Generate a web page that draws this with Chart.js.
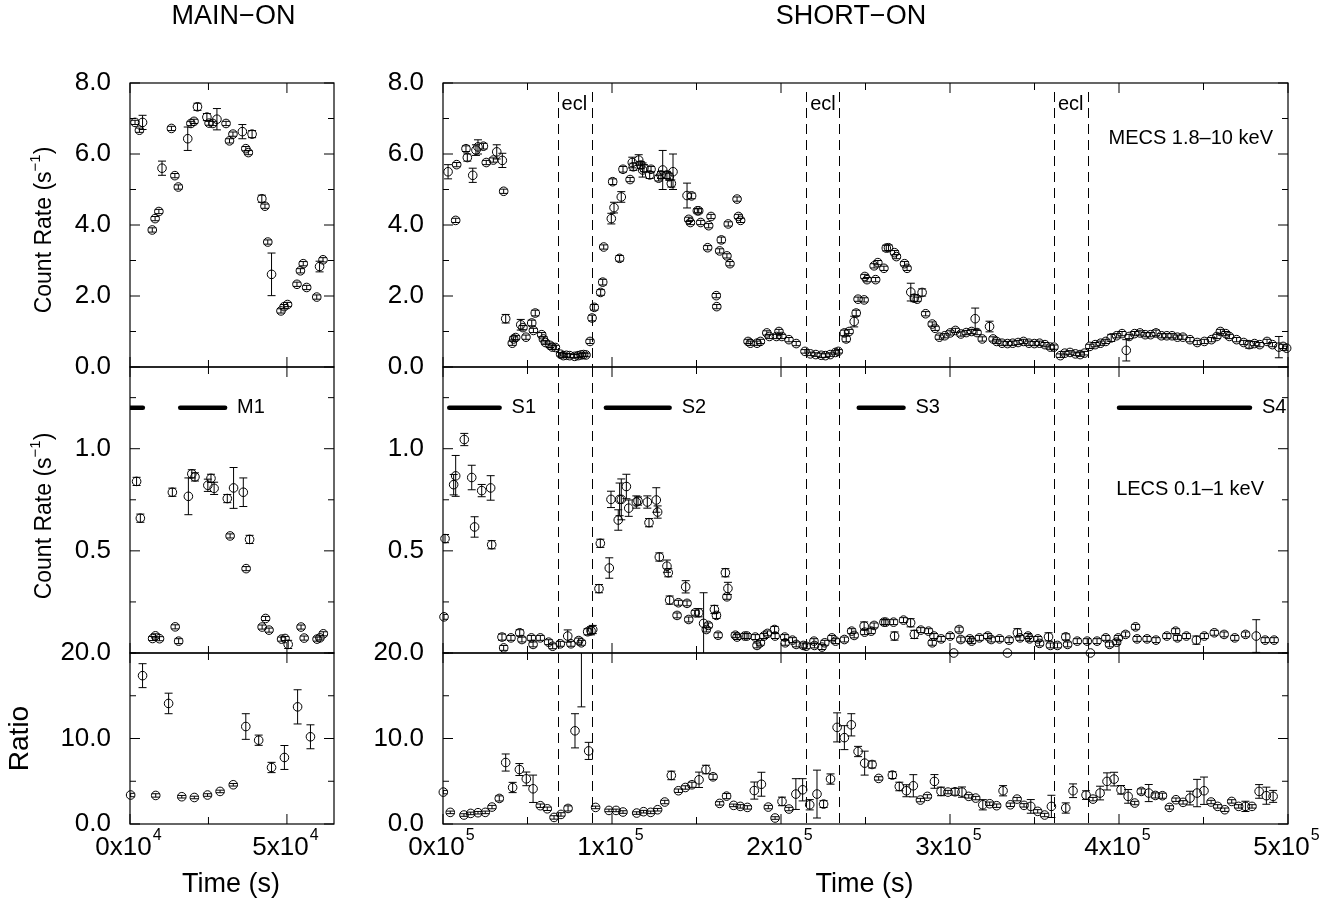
<!DOCTYPE html>
<html>
<head>
<meta charset="utf-8">
<script src="https://cdn.jsdelivr.net/npm/chart.js@4.4.0/dist/chart.umd.min.js"></script>
<style>
body { margin: 0; background: #fff; }
#wrap { position: relative; width: 1341px; height: 907px; overflow: hidden; }
canvas { position: absolute; }
</style>
</head>
<body>
<div id="wrap"></div>
<script>
const FONT = "'Liberation Sans', Arial, Helvetica, sans-serif";

// time axes (s)
const mainTimeTicks = [0, 25000, 50000];
const mainTimeLabels = [[0, '0', '4'], [50000, '5', '4']];
const shortTimeTicks = [0, 50000, 100000, 150000, 200000, 250000, 300000, 350000, 400000, 450000, 500000];
const shortTimeLabels = [[0, '0', '5'], [100000, '1', '5'], [200000, '2', '5'], [300000, '3', '5'], [400000, '4', '5'], [500000, '5', '5']];

// eclipse ingress / egress times (s)
const eclipseEdges = [67800, 88200, 214900, 234600, 361500, 381800];

// selected intervals [from, to, name]
const intervalLevel = 1.2;
const mainIntervals = [[0, 4100, ''], [16000, 30300, 'M1']];
const shortIntervals = [[3700, 33500, 'S1'], [96400, 134100, 'S2'], [246000, 272500, 'S3'], [400000, 477500, 'S4']];

// [time, value, error]
const mainMecs = [
  [1600, 6.89, 0.06], [3000, 6.67, 0.06], [4000, 6.89, 0.2], [7100, 3.86, 0.06], [8000, 4.18, 0.06],
  [9200, 4.38, 0.06], [10200, 5.60, 0.2], [13200, 6.72, 0.06], [14300, 5.39, 0.06], [15400, 5.07, 0.06],
  [18400, 6.43, 0.33], [19400, 6.86, 0.06], [20400, 6.92, 0.06], [21500, 7.33, 0.1], [24500, 7.04, 0.1],
  [25200, 6.87, 0.06], [26400, 6.86, 0.06], [27700, 6.98, 0.3], [30600, 6.86, 0.06], [31700, 6.37, 0.06],
  [32800, 6.56, 0.06], [35800, 6.63, 0.2], [36900, 6.15, 0.06], [37700, 6.04, 0.06], [38900, 6.56, 0.1],
  [42000, 4.74, 0.1], [43000, 4.53, 0.06], [43900, 3.52, 0.06], [45100, 2.61, 0.6], [48100, 1.58, 0.06],
  [49100, 1.70, 0.06], [50200, 1.76, 0.06], [53200, 2.33, 0.06], [54300, 2.71, 0.06], [55200, 2.91, 0.06],
  [56300, 2.24, 0.06], [59500, 1.97, 0.06], [60400, 2.83, 0.15], [61500, 3.02, 0.06]
];
const mainLecs = [
  [2100, 0.84, 0.02], [3300, 0.66, 0.02], [7200, 0.071, 0.01], [8100, 0.084, 0.01], [9400, 0.07, 0.01],
  [13500, 0.787, 0.02], [14400, 0.128, 0.01], [15500, 0.058, 0.012], [18600, 0.767, 0.09], [19700, 0.877, 0.02],
  [20700, 0.862, 0.02], [24800, 0.821, 0.03], [25800, 0.855, 0.02], [26800, 0.806, 0.03], [31000, 0.756, 0.02],
  [31900, 0.573, 0.01], [33000, 0.808, 0.1], [36100, 0.787, 0.07], [37000, 0.413, 0.01], [38100, 0.556, 0.02],
  [42100, 0.127, 0.01], [43200, 0.169, 0.01], [44300, 0.112, 0.01], [48300, 0.068, 0.01], [49400, 0.071, 0.01],
  [50400, 0.042, 0.02], [54500, 0.127, 0.01], [55500, 0.073, 0.01], [59600, 0.068, 0.01], [60500, 0.074, 0.01],
  [61600, 0.094, 0.01]
];
const mainRatio = [
  [200, 3.39, 0.2], [4000, 17.35, 1.4], [8200, 3.34, 0.2], [12300, 14.1, 1.2], [16500, 3.19, 0.15],
  [20500, 3.1, 0.15], [24700, 3.39, 0.15], [28700, 3.81, 0.15], [32900, 4.59, 0.15], [36900, 11.4, 1.5],
  [41000, 9.8, 0.6], [45100, 6.61, 0.6], [49200, 7.78, 1.4], [53400, 13.7, 2.0], [57500, 10.2, 1.4]
];

const shortMecs = [
  [3000, 5.50, 0.2], [7500, 4.13, 0.06], [8100, 5.70, 0.06], [13600, 6.15, 0.08], [14400, 5.90, 0.1],
  [17600, 5.40, 0.2], [19500, 6.11, 0.15], [20700, 6.20, 0.2], [23900, 6.22, 0.08], [25600, 5.76, 0.06],
  [29800, 5.83, 0.06], [31800, 6.06, 0.2], [35100, 5.82, 0.2], [35900, 4.95, 0.06], [37100, 1.36, 0.12],
  [41000, 0.67, 0.06], [41800, 0.79, 0.06], [43000, 0.83, 0.06], [46000, 1.19, 0.15], [47300, 1.11, 0.06],
  [49100, 0.84, 0.06], [52500, 1.24, 0.08], [53500, 1.03, 0.06], [54600, 1.52, 0.08], [58400, 0.91, 0.06],
  [59400, 0.79, 0.06], [60600, 0.69, 0.06], [63300, 0.61, 0.06], [64700, 0.56, 0.06], [66500, 0.55, 0.06],
  [69600, 0.36, 0.05], [71200, 0.32, 0.05], [73000, 0.33, 0.05], [75000, 0.32, 0.05], [77900, 0.30, 0.05],
  [79900, 0.32, 0.05], [81700, 0.34, 0.05], [83200, 0.35, 0.05], [84600, 0.34, 0.05], [87000, 0.72, 0.06],
  [88200, 1.38, 0.08], [89500, 1.68, 0.08], [93300, 2.10, 0.08], [94500, 2.39, 0.08], [95100, 3.38, 0.06],
  [99600, 4.18, 0.15], [100400, 5.22, 0.08], [101200, 4.49, 0.15], [104500, 3.06, 0.08], [105500, 4.79, 0.15],
  [106500, 5.57, 0.08], [110700, 5.28, 0.06], [112000, 5.76, 0.15], [112600, 5.64, 0.1], [115800, 5.83, 0.15],
  [117000, 5.69, 0.1], [118100, 5.55, 0.2], [118900, 5.60, 0.1], [122300, 5.41, 0.1], [123100, 5.57, 0.08],
  [127600, 5.32, 0.08], [129000, 5.41, 0.1], [130000, 5.55, 0.55], [132500, 5.41, 0.1], [133900, 5.36, 0.1],
  [135100, 5.17, 0.1], [136100, 5.50, 0.5], [144400, 4.83, 0.35], [145400, 4.16, 0.06], [146400, 4.07, 0.06],
  [147100, 4.82, 0.08], [150500, 4.40, 0.06], [151300, 4.40, 0.06], [152500, 4.07, 0.06], [156600, 3.36, 0.06],
  [157200, 3.98, 0.06], [158600, 4.24, 0.06], [161700, 2.01, 0.06], [162000, 1.70, 0.06], [163700, 3.27, 0.06],
  [164700, 3.58, 0.08], [168000, 3.13, 0.06], [168800, 4.03, 0.06], [169800, 2.91, 0.06], [174000, 4.73, 0.06],
  [174800, 4.24, 0.06], [176100, 4.13, 0.06], [180500, 0.72, 0.06], [181900, 0.67, 0.06], [185800, 0.67, 0.06],
  [187800, 0.72, 0.06], [191600, 0.96, 0.06], [193100, 0.86, 0.06], [197300, 0.86, 0.06], [198800, 1.00, 0.06],
  [200500, 0.86, 0.06], [204700, 0.77, 0.06], [209000, 0.66, 0.06], [214200, 0.44, 0.05], [217400, 0.37, 0.05],
  [220600, 0.35, 0.05], [223800, 0.33, 0.06], [226300, 0.32, 0.05], [229100, 0.35, 0.05], [232200, 0.41, 0.05],
  [233900, 0.44, 0.05], [237500, 0.96, 0.08], [238600, 0.79, 0.08], [240300, 1.00, 0.06], [243300, 1.28, 0.15],
  [244500, 1.52, 0.08], [245600, 1.91, 0.06], [249200, 1.89, 0.06], [249600, 2.55, 0.06], [250900, 2.46, 0.06],
  [255100, 2.85, 0.06], [256000, 2.46, 0.06], [257300, 2.94, 0.06], [260900, 2.78, 0.06], [262300, 3.35, 0.08],
  [263600, 3.36, 0.08], [267200, 3.22, 0.06], [268300, 3.11, 0.06], [273100, 2.91, 0.06], [274600, 2.78, 0.06],
  [276800, 2.11, 0.25], [278900, 1.94, 0.1], [280600, 1.91, 0.06], [283500, 2.10, 0.1], [285600, 1.50, 0.06],
  [289500, 1.21, 0.06], [291200, 1.09, 0.06], [293700, 0.84, 0.06], [296900, 0.88, 0.06], [300100, 0.96, 0.06],
  [303200, 1.03, 0.06], [306400, 0.93, 0.06], [309600, 0.97, 0.06], [312800, 1.00, 0.06], [314900, 1.36, 0.3],
  [316000, 0.97, 0.06], [319100, 0.79, 0.06], [323400, 1.14, 0.15], [325500, 0.79, 0.06], [327600, 0.72, 0.06],
  [330800, 0.67, 0.06], [334000, 0.66, 0.06], [337100, 0.67, 0.06], [340300, 0.69, 0.06], [343500, 0.72, 0.06],
  [346700, 0.67, 0.06], [349900, 0.66, 0.06], [353000, 0.67, 0.06], [356200, 0.63, 0.06], [359400, 0.56, 0.06],
  [361500, 0.56, 0.06], [365300, 0.32, 0.05], [367900, 0.39, 0.05], [371000, 0.41, 0.05], [374200, 0.37, 0.05],
  [377000, 0.35, 0.05], [379500, 0.39, 0.05], [382700, 0.58, 0.06], [385900, 0.63, 0.06], [389100, 0.67, 0.06],
  [392200, 0.72, 0.06], [395400, 0.82, 0.1], [398600, 0.88, 0.06], [401800, 0.94, 0.06], [404300, 0.47, 0.3],
  [406000, 0.86, 0.06], [409200, 0.94, 0.06], [412400, 0.96, 0.06], [415500, 0.91, 0.06], [418700, 0.91, 0.06],
  [421900, 0.96, 0.08], [425100, 0.88, 0.06], [428300, 0.88, 0.06], [431400, 0.88, 0.06], [434600, 0.84, 0.06],
  [437800, 0.84, 0.06], [442000, 0.77, 0.06], [446300, 0.69, 0.06], [450500, 0.72, 0.06], [454700, 0.77, 0.06],
  [457900, 0.86, 0.06], [460000, 1.00, 0.06], [463200, 0.94, 0.06], [465300, 0.86, 0.06], [469600, 0.77, 0.06],
  [473800, 0.69, 0.06], [477000, 0.63, 0.1], [480200, 0.66, 0.06], [483300, 0.63, 0.06], [487600, 0.72, 0.06],
  [490800, 0.63, 0.06], [494600, 0.56, 0.3], [497100, 0.58, 0.06], [499200, 0.53, 0.06]
];
const shortLecs = [
  [600, 0.177, 0.012], [1200, 0.560, 0.02], [6300, 0.824, 0.05], [7500, 0.867, 0.1], [12600, 1.045, 0.03],
  [17000, 0.859, 0.06], [18700, 0.617, 0.05], [22900, 0.795, 0.03], [28200, 0.808, 0.06], [28800, 0.530, 0.02],
  [34900, 0.078, 0.015], [35900, 0.025, 0.012], [40200, 0.074, 0.012], [45400, 0.099, 0.015], [46700, 0.066, 0.012],
  [52300, 0.074, 0.012], [53300, 0.042, 0.012], [57600, 0.074, 0.012], [62500, 0.053, 0.012], [64900, 0.033, 0.012],
  [69400, 0.045, 0.012], [73800, 0.083, 0.03], [75700, 0.045, 0.012], [80300, 0.061, 0.012], [81900, 0.050, 0.012],
  [85600, 0.104, 0.015], [87600, 0.109, 0.02], [88600, 0.115, 0.02], [92300, 0.315, 0.02], [93100, 0.537, 0.02],
  [98400, 0.416, 0.05], [99400, 0.752, 0.04], [103700, 0.651, 0.05], [104500, 0.752, 0.08], [105500, 0.752, 0.1],
  [108500, 0.815, 0.06], [109900, 0.709, 0.04], [114400, 0.739, 0.03], [115400, 0.744, 0.02], [120900, 0.739, 0.03],
  [121900, 0.638, 0.02], [126200, 0.749, 0.06], [127000, 0.690, 0.03], [128000, 0.470, 0.02], [132500, 0.425, 0.03],
  [133300, 0.393, 0.02], [134100, 0.259, 0.02], [138500, 0.184, 0.012], [139300, 0.246, 0.012], [143600, 0.324, 0.03],
  [144400, 0.243, 0.012], [145400, 0.164, 0.012], [149300, 0.197, 0.012], [151300, 0.197, 0.02], [154200, 0.145, 0.15],
  [155800, 0.115, 0.012], [157000, 0.135, 0.012], [160600, 0.213, 0.02], [161800, 0.184, 0.015], [162800, 0.087, 0.012],
  [167100, 0.393, 0.02], [168000, 0.275, 0.012], [168600, 0.316, 0.03], [173000, 0.087, 0.012], [174000, 0.078, 0.012],
  [178500, 0.083, 0.012], [179900, 0.083, 0.012], [184800, 0.078, 0.012], [185800, 0.037, 0.012],
  [187800, 0.05, 0.012], [189900, 0.083, 0.012], [192000, 0.096, 0.012], [196200, 0.115, 0.015], [196500, 0.083, 0.012],
  [202200, 0.078, 0.012], [202500, 0.05, 0.012], [206800, 0.063, 0.012], [209000, 0.042, 0.012], [213200, 0.037, 0.012],
  [214900, 0.033, 0.012], [219500, 0.058, 0.012], [219800, 0.037, 0.012], [224200, 0.029, 0.012], [225900, 0.05, 0.012],
  [230100, 0.074, 0.012], [232300, 0.058, 0.012], [237500, 0.066, 0.012], [241800, 0.107, 0.012], [243300, 0.086, 0.012],
  [249200, 0.132, 0.02], [249500, 0.102, 0.012], [253400, 0.107, 0.012], [255100, 0.135, 0.012], [260900, 0.151, 0.012],
  [262000, 0.151, 0.012], [266600, 0.151, 0.012], [267200, 0.083, 0.02], [272500, 0.161, 0.012], [276700, 0.148, 0.02],
  [278900, 0.091, 0.02], [282700, 0.112, 0.012], [287300, 0.107, 0.012], [289500, 0.05, 0.012], [290500, 0.083, 0.012],
  [294800, 0.069, 0.012], [300100, 0.083, 0.012], [302200, 0.0, 0], [305400, 0.115, 0.012], [306400, 0.066, 0.012],
  [311700, 0.069, 0.012], [312800, 0.058, 0.012], [317400, 0.074, 0.012], [322300, 0.083, 0.012], [324400, 0.066, 0.012],
  [329300, 0.069, 0.012], [334000, 0.0, 0], [335000, 0.063, 0.012], [339900, 0.099, 0.02], [341400, 0.074, 0.012],
  [346200, 0.083, 0.012], [347100, 0.069, 0.012], [352000, 0.069, 0.012], [353000, 0.047, 0.012], [358300, 0.079, 0.02],
  [359400, 0.037, 0.012], [363600, 0.037, 0.012], [368500, 0.079, 0.015], [369600, 0.042, 0.012], [375300, 0.058, 0.012],
  [381200, 0.058, 0.012], [383100, 0.0, 0], [387000, 0.058, 0.012], [392200, 0.074, 0.012], [394400, 0.042, 0.012],
  [398600, 0.053, 0.012], [399600, 0.074, 0.012], [403900, 0.091, 0.012], [409800, 0.128, 0.012], [410700, 0.069, 0.012],
  [416600, 0.069, 0.012], [421900, 0.063, 0.012], [428300, 0.083, 0.012], [433500, 0.107, 0.012], [434600, 0.074, 0.012],
  [439900, 0.083, 0.012], [445800, 0.063, 0.02], [450500, 0.083, 0.012], [456400, 0.099, 0.012], [462200, 0.091, 0.012],
  [468500, 0.074, 0.012], [474900, 0.091, 0.012], [481200, 0.083, 0.08], [486500, 0.063, 0.012], [491800, 0.063, 0.012]
];
const shortRatio = [
  [200, 3.73, 0.2], [4300, 1.36, 0.15], [12400, 1.05, 0.15], [16400, 1.24, 0.15], [20700, 1.32, 0.15],
  [25000, 1.36, 0.15], [29000, 1.98, 0.2], [33300, 2.99, 0.3], [37100, 7.19, 1.0], [41200, 4.27, 0.6],
  [45200, 6.37, 0.7], [49300, 5.28, 0.8], [53300, 4.12, 1.6], [57600, 2.14, 0.2], [61700, 1.78, 0.2],
  [65700, 0.77, 0.2], [69800, 1.12, 0.2], [74000, 1.82, 0.3], [78100, 10.9, 2.0], [81900, 23, 9.3],
  [86200, 8.55, 1.0], [90300, 1.94, 0.15], [98200, 1.59, 0.15], [102400, 1.59, 0.15], [106500, 1.40, 0.15],
  [114600, 1.28, 0.15], [118700, 1.44, 0.15], [122900, 1.36, 0.15], [127000, 1.67, 0.15], [131200, 2.57, 0.2],
  [135100, 5.68, 0.5], [139300, 3.89, 0.2], [143400, 4.27, 0.2], [147300, 4.59, 0.3], [151500, 5.17, 0.9],
  [155600, 6.37, 0.5], [159800, 5.52, 0.3], [163700, 2.41, 0.2], [167800, 3.26, 0.3], [172000, 2.18, 0.15],
  [175900, 2.06, 0.2], [180100, 1.94, 0.2], [184200, 3.91, 1.0], [188400, 4.65, 1.4], [192500, 1.98, 0.2],
  [196500, 0.70, 0.15], [200600, 2.64, 0.5], [204700, 1.75, 0.2], [208800, 3.50, 1.8], [212800, 4.0, 1.3],
  [217000, 2.25, 0.6], [221300, 3.5, 2.8], [225200, 2.33, 0.4], [229300, 5.26, 0.6], [233200, 11.3, 1.7],
  [237500, 10.1, 1.4], [241600, 11.6, 1.3], [245600, 8.48, 0.6], [249500, 7.12, 1.4], [253900, 6.96, 0.4],
  [257800, 5.33, 0.2], [265900, 5.72, 0.4], [270000, 4.39, 0.5], [274200, 3.89, 0.7], [278300, 4.47, 1.3],
  [282500, 2.80, 0.2], [286600, 3.23, 0.2], [290800, 4.98, 0.8], [294700, 3.81, 0.5], [298800, 3.73, 0.2],
  [303000, 3.77, 0.4], [307100, 3.73, 0.6], [311100, 3.23, 0.2], [315200, 3.03, 0.2], [319400, 2.25, 0.6],
  [323500, 2.37, 0.2], [327600, 2.14, 0.2], [331400, 3.89, 0.6], [335700, 2.25, 0.2], [339700, 2.91, 0.2],
  [343800, 2.18, 0.2], [347800, 2.06, 0.8], [351900, 1.48, 0.2], [356000, 1.05, 0.2], [360000, 2.06, 1.3],
  [368500, 1.87, 0.6], [372800, 3.89, 0.8], [380500, 3.38, 0.5], [384600, 2.91, 0.2], [388800, 3.62, 0.8],
  [392900, 4.98, 1.0], [397100, 5.25, 0.8], [401200, 4.0, 0.5], [405400, 3.23, 0.8], [409300, 2.45, 0.2],
  [413200, 3.81, 0.3], [417600, 3.62, 1.0], [421500, 3.34, 0.3], [425700, 3.31, 0.3], [429800, 1.94, 0.2],
  [433700, 2.84, 0.2], [437900, 2.53, 0.2], [442000, 3.03, 0.8], [446200, 3.62, 1.6], [450300, 3.89, 1.6],
  [454500, 2.57, 0.2], [458400, 2.06, 0.2], [462600, 1.67, 0.2], [466700, 2.64, 0.2], [470800, 2.06, 0.2],
  [474800, 2.06, 0.6], [478700, 2.06, 0.2], [482900, 3.81, 0.8], [487200, 3.31, 1.0], [491200, 3.23, 0.7]
];

const wrap = document.getElementById('wrap');

function near(a, b) { return Math.abs(a - b) < 1e-6; }

// draw a string made of [text, size, rise] parts, centred on (x, y)
function richText(ctx, parts, x, y, rot) {
  ctx.save();
  ctx.translate(x, y);
  if (rot) ctx.rotate(rot);
  ctx.fillStyle = '#000';
  ctx.textBaseline = 'middle';
  ctx.textAlign = 'left';
  let total = 0;
  parts.forEach(p => { ctx.font = p[1] + 'px ' + FONT; total += ctx.measureText(p[0]).width; });
  let cx = -total / 2;
  parts.forEach(p => {
    ctx.font = p[1] + 'px ' + FONT;
    ctx.fillText(p[0], cx, -p[2]);
    cx += ctx.measureText(p[0]).width;
  });
  ctx.restore();
}

function seg(ctx, x1, y1, x2, y2) {
  ctx.beginPath(); ctx.moveTo(x1, y1); ctx.lineTo(x2, y2); ctx.stroke();
}

function decorPlugin(p) {
  return {
    id: 'decor',
    beforeDatasetsDraw(chart) {
      const { ctx, chartArea: a, scales: { x } } = chart;
      if (!p.eclipses) return;
      ctx.save();
      ctx.strokeStyle = '#000';
      ctx.lineWidth = 1;
      ctx.setLineDash([10, 6]);
      p.eclipses.forEach(t => {
        const px = Math.round(x.getPixelForValue(t)) + 0.5;
        seg(ctx, px, a.top + (p.eclLabels ? 9 : 0), px, a.bottom);
      });
      ctx.restore();
    },
    afterDatasetsDraw(chart) {
      const { ctx, chartArea: a, scales: { x, y } } = chart;
      ctx.save();
      ctx.strokeStyle = '#000';
      ctx.fillStyle = '#000';
      ctx.lineWidth = 1;

      // error bars
      ctx.save();
      ctx.beginPath();
      ctx.rect(a.left, a.top, a.right - a.left, a.bottom - a.top);
      ctx.clip();
      p.points.forEach(d => {
        if (!d[2]) return;
        const px = x.getPixelForValue(d[0]);
        const y1 = y.getPixelForValue(d[1] - d[2]);
        const y2 = y.getPixelForValue(d[1] + d[2]);
        seg(ctx, px, y1, px, y2);
        seg(ctx, px - 4, y1, px + 4, y1);
        seg(ctx, px - 4, y2, px + 4, y2);
      });
      ctx.restore();

      // frame and inward ticks
      ctx.lineWidth = 1.2;
      ctx.strokeRect(a.left, a.top, a.right - a.left, a.bottom - a.top);
      ctx.lineWidth = 1;
      y.ticks.forEach(tk => {
        const py = y.getPixelForValue(tk.value);
        const len = tk.label ? 10 : 6;
        seg(ctx, a.left, py, a.left + len, py);
        seg(ctx, a.right, py, a.right - len, py);
      });
      const majors = p.xLabels.map(l => l[0]);
      p.xTicks.forEach(t => {
        const px = x.getPixelForValue(t);
        const len = majors.includes(t) ? 10 : 7;
        seg(ctx, px, a.top, px, a.top + len);
        seg(ctx, px, a.bottom, px, a.bottom - len);
      });

      // interval names
      ctx.font = '20px ' + FONT;
      ctx.textBaseline = 'middle';
      ctx.textAlign = 'left';
      (p.intervals || []).forEach(iv => {
        if (!iv[2]) return;
        ctx.fillText(iv[2], x.getPixelForValue(iv[1]) + 12, y.getPixelForValue(intervalLevel));
      });

      // eclipse labels
      if (p.eclLabels) {
        for (let i = 0; i < p.eclipses.length; i += 2) {
          ctx.fillText('ecl', x.getPixelForValue(p.eclipses[i]) + 4, a.top + 21);
        }
      }

      // band label
      if (p.band) {
        ctx.textAlign = 'right';
        ctx.fillText(p.band[0], a.right - p.band[1], a.top + p.band[2]);
      }

      // time labels
      if (p.bottom) {
        p.xLabels.forEach(l => {
          const px = x.getPixelForValue(l[0]) - 2;
          ctx.font = '26px ' + FONT;
          const wb = ctx.measureText(l[1] + 'x10').width;
          ctx.font = '16px ' + FONT;
          const we = ctx.measureText(l[2]).width;
          const left = px - (wb + we) / 2;
          ctx.textAlign = 'left';
          ctx.font = '26px ' + FONT;
          ctx.fillText(l[1] + 'x10', left, a.bottom + 24);
          ctx.font = '16px ' + FONT;
          ctx.fillText(l[2], left + wb + 1, a.bottom + 12);
        });
        richText(ctx, [['Time (s)', 27, 0]], (a.left + a.right) / 2 - 1, a.bottom + 61, 0);
      }

      if (p.header) richText(ctx, [[p.header[0], 27, 0]], (a.left + a.right) / 2 + p.header[1], 17, 0);
      if (p.yTitle) richText(ctx, p.yTitle[0], p.yTitle[1], (a.top + a.bottom) / 2 + p.yTitle[2], -Math.PI / 2);
      ctx.restore();
    }
  };
}

function makePanel(p) {
  const c = document.createElement('canvas');
  c.width = p.w;
  c.height = p.h;
  c.style.left = p.x + 'px';
  c.style.top = p.y + 'px';
  wrap.appendChild(c);
  const datasets = [{
    type: 'scatter',
    data: p.points.map(d => ({ x: d[0], y: d[1] })),
    pointStyle: 'circle',
    pointRadius: 4.3,
    pointHoverRadius: 4.3,
    borderColor: '#000',
    backgroundColor: 'rgba(0,0,0,0)',
    borderWidth: 1,
    showLine: false,
    clip: 8
  }];
  (p.intervals || []).forEach(iv => datasets.push({
    type: 'line',
    data: [{ x: iv[0], y: intervalLevel }, { x: iv[1], y: intervalLevel }],
    borderColor: '#000',
    borderWidth: 4.5,
    borderCapStyle: 'round',
    pointRadius: 0,
    showLine: true,
    fill: false
  }));
  return new Chart(c, {
    type: 'scatter',
    data: { datasets },
    options: {
      responsive: false,
      animation: false,
      devicePixelRatio: 1,
      events: [],
      layout: { padding: { left: 0, right: p.padR, top: p.padT, bottom: p.padB } },
      plugins: { legend: { display: false }, tooltip: { enabled: false } },
      scales: {
        x: { type: 'linear', min: p.xMin, max: p.xMax, display: false },
        y: {
          type: 'linear', min: p.yMin, max: p.yMax,
          // fixed axis box so all panels line up
          afterFit: s => { s.width = p.axisW; s.paddingTop = 0; s.paddingBottom = 0; },
          grid: { display: false, drawTicks: false },
          border: { display: false },
          ticks: {
            stepSize: p.yStep, autoSkip: false, includeBounds: false, padding: 19,
            color: '#000', font: { family: FONT, size: 26 },
            callback: p.yLabel
          }
        }
      }
    },
    plugins: [decorPlugin(p)]
  });
}

const countTitle = [['Count Rate (s', 23, 0], ['\u22121', 15, 9], [')', 23, 0]];
const mecsLabel = v => (near(v % 2, 0) ? v.toFixed(1) : '');
const lecsLabel = v => (near(v, 0.5) || near(v, 1) ? v.toFixed(1) : '');
const ratioLabel = v => (near(v % 10, 0) ? v.toFixed(1) : '');

const leftCol = { x: 0, w: 349, axisW: 130, padR: 15, xMin: 0, xMax: 65000, xTicks: mainTimeTicks, xLabels: mainTimeLabels };
const rightCol = { x: 340, w: 1001, axisW: 103, padR: 53, xMin: 0, xMax: 500000, xTicks: shortTimeTicks, xLabels: shortTimeLabels, eclipses: eclipseEdges };
const topRow = { y: 0, h: 387, padT: 83, padB: 20, yMin: 0, yMax: 8, yStep: 1, yLabel: mecsLabel };
const midRow = { y: 347, h: 326, padT: 20, padB: 20, yMin: 0, yMax: 1.4, yStep: 0.25, yLabel: lecsLabel };
const botRow = { y: 633, h: 274, padT: 20, padB: 83, yMin: 0, yMax: 20, yStep: 5, yLabel: ratioLabel, bottom: true };

makePanel(Object.assign({}, leftCol, topRow, { points: mainMecs, header: ['MAIN\u2212ON', 1.5], yTitle: [countTitle, 44.7, 5] }));
makePanel(Object.assign({}, leftCol, midRow, { points: mainLecs, intervals: mainIntervals, yTitle: [countTitle, 44.7, 6] }));
makePanel(Object.assign({}, leftCol, botRow, { points: mainRatio, yTitle: [[['Ratio', 28, 0]], 20, 0] }));
makePanel(Object.assign({}, rightCol, topRow, { points: shortMecs, header: ['SHORT\u2212ON', -14.5], eclLabels: true, band: ['MECS 1.8\u201310 keV', 15, 55] }));
makePanel(Object.assign({}, rightCol, midRow, { points: shortLecs, intervals: shortIntervals, band: ['LECS 0.1\u20131 keV', 24, 122] }));
makePanel(Object.assign({}, rightCol, botRow, { points: shortRatio }));
</script>
</body>
</html>
